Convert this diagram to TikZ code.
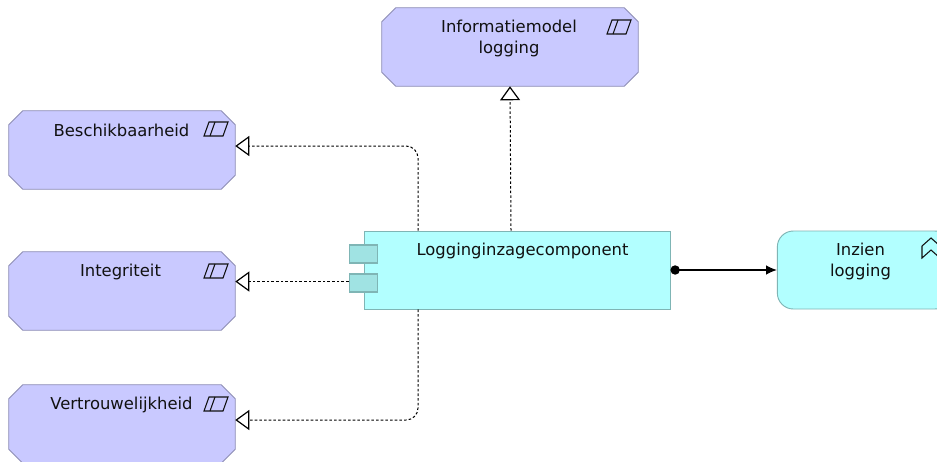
\documentclass[tikz,border=0pt]{standalone}
\usepackage{fontspec}
\setmainfont{DejaVu Sans}
\usetikzlibrary{arrows.meta}
\definecolor{motfill}{HTML}{C9C9FF}
\definecolor{motline}{HTML}{8F8FB5}
\definecolor{appfill}{HTML}{B2FFFF}
\definecolor{appline}{HTML}{7FB5B5}
\definecolor{tabfill}{HTML}{A0E3E3}
\definecolor{txtcol}{HTML}{111111}
\tikzset{
  x=0.75pt,y=-0.75pt,
  motivA/.style={rectangle,minimum width=169.5pt,minimum height=58.5pt,inner sep=0pt},
  motivB/.style={rectangle,minimum width=192pt,minimum height=58.5pt,inner sep=0pt},
  motivline/.style={draw=motline,fill=motfill,line width=0.6pt},
  compbox/.style={rectangle,draw=appline,fill=appfill,line width=0.7pt,minimum width=229.5pt,minimum height=58.5pt,inner sep=0pt},
  tabbox/.style={rectangle,draw=appline,fill=tabfill,line width=0.8pt,minimum width=21.5pt,minimum height=13.5pt,inner sep=0pt},
  funcbox/.style={rectangle,rounded corners=12pt,draw=appline,fill=appfill,line width=0.7pt,minimum width=130pt,minimum height=58.5pt,inner sep=0pt},
  lbl/.style={font=\fontsize{12.3pt}{15.75pt}\selectfont,text=txtcol,align=center,inner sep=0pt,anchor=center},
  realize/.style={draw=black,line width=0.75pt,dash pattern=on 1.9pt off 1.6pt,rounded corners=9pt,
    -{Triangle[open,length=10.5pt,width=15pt,line width=0.9pt,fill=white]}},
  assign/.style={draw=black,line width=0.8pt,{Circle[length=7pt]}-{Latex[length=8pt,width=7pt]}},
  icon/.style={draw=txtcol,line width=0.8pt,line join=miter},
}
\newcommand{\dataicon}[2]{%
  \draw[icon] (#1+5,#2) -- (#1+24,#2) -- (#1+19,#2+14) -- (#1,#2+14) -- cycle;
  \draw[icon] (#1+11,#2) -- (#1+6,#2+14);
}
\newcommand{\chamfer}[1]{%
  \draw[motivline] ([xshift=10.5pt]#1.north west) -- ([xshift=-10.5pt]#1.north east)
    -- ([yshift=-10.5pt]#1.north east) -- ([yshift=10.5pt]#1.south east)
    -- ([xshift=-10.5pt]#1.south east) -- ([xshift=10.5pt]#1.south west)
    -- ([yshift=10.5pt]#1.south west) -- ([yshift=-10.5pt]#1.north west) -- cycle;
}
\begin{document}
\begin{tikzpicture}
\useasboundingbox (0,0) rectangle (937,461);
\clip (0,0) rectangle (937,461);
\fill[white] (0,0) rectangle (937,461);

\node[motivB] (info) at (510,47) {};
\node[motivA] (besch) at (122,150) {};
\node[motivA] (integ) at (122,291) {};
\node[motivA] (vertr) at (122,424) {};
\chamfer{info}
\chamfer{besch}
\chamfer{integ}
\chamfer{vertr}
\node[compbox] (comp) at (517,270) {};
\node[tabbox] (tabA) at (363.5,254) {};
\node[tabbox] (tabB) at (363.5,283) {};
\node[funcbox] (func) at (864,270) {};

\node[lbl] (infoT) at (509,38.5) {Informatiemodel\\logging};
\node[lbl] (beschT) at (121.5,130.5) {Beschikbaarheid};
\node[lbl] (integT) at (120.5,272) {Integriteit};
\node[lbl] (vertrT) at (121.5,405) {Vertrouwelijkheid};
\node[lbl] (compT) at (522.5,251) {Logginginzagecomponent};
\node[lbl] (funcT) at (860.5,261) {Inzien\\logging};

\dataicon{607}{20}
\dataicon{204}{122}
\dataicon{204}{264}
\dataicon{204}{397}
\draw[icon] (922,258) -- (922,246) -- (931,238) -- (940,246) -- (940,258) -- (931,250) -- cycle;

\draw[realize] (comp.north) ++(-6,0) -- (info.south);
\draw[realize] (comp.north) ++(-99,0) |- ([yshift=3pt]besch.east);
\draw[realize] ([yshift=1.1pt]tabB.west) -- ([yshift=7.1pt]integ.east);
\draw[realize] (comp.south) ++(-99,0) |- ([yshift=3pt]vertr.east);
\draw[assign] (comp.east) -- (func.west);
\end{tikzpicture}
\end{document}
